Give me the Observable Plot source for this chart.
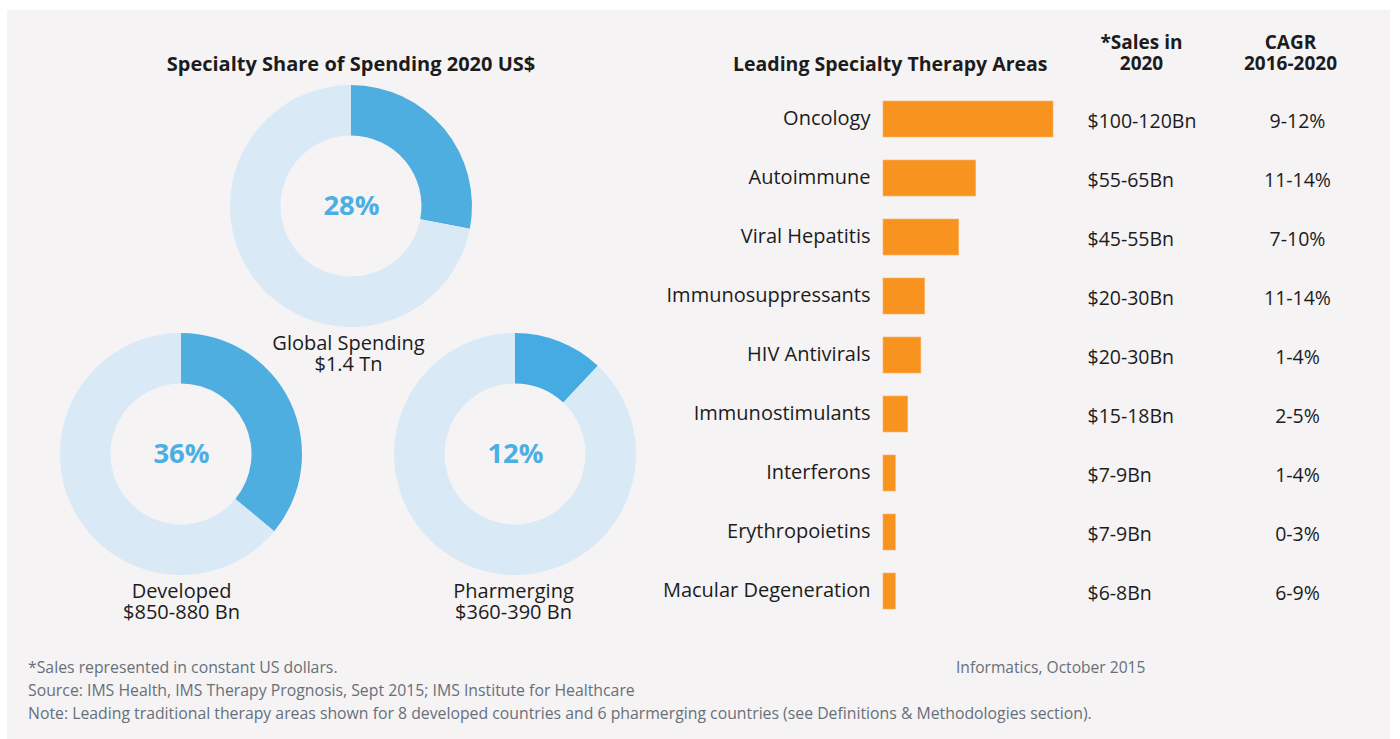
<!DOCTYPE html>
<html>
<head>
<meta charset="utf-8">
<script src="https://cdn.jsdelivr.net/npm/d3@7"></script>
<script src="https://cdn.jsdelivr.net/npm/@observablehq/plot@0.6"></script>
<style>
  html, body { margin: 0; padding: 0; background: #ffffff; }
  #root { position: relative; width: 1400px; height: 739px; overflow: hidden; font-family: "Open Sans", Lato, sans-serif; }
  #panel { position: absolute; left: 7px; top: 10px; width: 1383px; height: 729px; background: #f5f3f4; }
  .abs { position: absolute; }
  #title { left: 101px; width: 500px; top: 50px; text-align: center; font-weight: bold; font-size: 20px; color: #1c1c1c; }
  #footer { left: 28px; top: 656px; font-size: 15.8px; line-height: 23px; color: #67707a; white-space: nowrap; }
  #footer2 { left: 956px; top: 656px; font-size: 15.6px; line-height: 23px; color: #67707a; white-space: nowrap; }
  svg { overflow: visible; }
</style>
</head>
<body>
<div id="root">
  <div id="panel"></div>
  <div id="title" class="abs">Specialty Share of Spending 2020 US$</div>
  <div id="footer" class="abs">*Sales represented in constant US dollars.<br>Source: IMS Health, IMS Therapy Prognosis, Sept 2015; IMS Institute for Healthcare<br>Note: Leading traditional therapy areas shown for 8 developed countries and 6 pharmerging countries (see Definitions &amp; Methodologies section).</div>
  <div id="footer2" class="abs">Informatics, October 2015</div>
</div>
<script>
// ---------------- DATA ----------------
const donutNames   = ["Global", "Developed", "Pharmerging"];
const donutShares  = [28, 36, 12];
const donutLabels  = ["Global Spending\n$1.4 Tn", "Developed\n$850-880 Bn", "Pharmerging\n$360-390 Bn"];

const areas  = ["Oncology", "Autoimmune", "Viral Hepatitis", "Immunosuppressants", "HIV Antivirals",
                "Immunostimulants", "Interferons", "Erythropoietins", "Macular Degeneration"];
const salesMid = [110, 60, 49, 27, 24.5, 16, 8, 8, 8];   // bar length ($Bn)
const salesText = ["$100-120Bn", "$55-65Bn", "$45-55Bn", "$20-30Bn", "$20-30Bn", "$15-18Bn", "$7-9Bn", "$7-9Bn", "$6-8Bn"];
const cagrText  = ["9-12%", "11-14%", "7-10%", "11-14%", "1-4%", "2-5%", "1-4%", "0-3%", "6-9%"];

// ---------------- LAYOUT (placement only) ----------------
const root = document.getElementById("root");
const FONT = "'Open Sans', Lato, sans-serif";
const donutPos = [[351, 206], [181, 454], [515, 454]]; // centers in page px
const labelShift = [-3, 0, -2];
const DW = 260, DH = 300, DCY = 125;

function donutArcs(rows) {
  return (index, scales, values, dims) => {
    const pie = d3.pie().sort(null).value(d => d.value)(rows);
    const arc = d3.arc().innerRadius(70.5).outerRadius(121);
    const g = d3.create("svg:g").attr("transform", `translate(${dims.width / 2},${DCY})`);
    g.selectAll("path").data(pie).join("path")
      .attr("d", arc)
      .attr("fill", d => scales.color(d.data.part));
    return g.node();
  };
}

donutNames.forEach((name, i) => {
  const rows = [
    {part: "Specialty", value: donutShares[i]},
    {part: "Other", value: 100 - donutShares[i]}
  ];
  const chart = Plot.plot({
    width: DW, height: DH,
    margin: 0,
    x: {axis: null}, y: {axis: null},
    color: {domain: ["Specialty", "Other"], range: [i === 2 ? "#44ace2" : "#4eaee0", "#d9e9f6"]},
    style: {background: "transparent", fontFamily: FONT, overflow: "visible"},
    marks: [
      Plot.dot(rows, {fill: "part", r: 0}),
      donutArcs(rows),
      Plot.text([donutShares[i] + "%"], {frameAnchor: "middle", dy: DCY - DH / 2, fontSize: 27.5, fontWeight: "bold", fill: "#4daee2"}),
      Plot.text([donutLabels[i]], {frameAnchor: "middle", dx: labelShift[i], dy: DCY - DH / 2 + 147, fontSize: 20, lineHeight: 1.08, fill: "#1c1c1c"})
    ]
  });
  chart.style.position = "absolute";
  chart.style.left = (donutPos[i][0] - DW / 2) + "px";
  chart.style.top = (donutPos[i][1] - DCY) + "px";
  root.appendChild(chart);
});

// ---------------- BAR TABLE ----------------
const rows = areas.map((a, i) => ({area: a, value: salesMid[i], sales: salesText[i], cagr: cagrText[i]}));

const bars = Plot.plot({
  width: 1400, height: 739,
  marginLeft: 883, marginRight: 347, marginTop: 0, marginBottom: 0,
  x: {domain: [0, 110], axis: null},
  y: {domain: areas, range: [78, 632], padding: 0.39, round: false, axis: null},
  style: {background: "transparent", fontFamily: FONT, overflow: "visible"},
  marks: [
    Plot.barX(rows, {x: "value", y: "area", fill: "#f7931e", stroke: "#fbb467", strokeWidth: 0.6}),
    Plot.text(rows, {y: "area", text: "area", frameAnchor: "left", textAnchor: "end", dx: -13, dy: -1, fontSize: 20, fill: "#1c1c1c"}),
    Plot.text(rows, {y: "area", text: "sales", frameAnchor: "right", textAnchor: "start", dx: 34, dy: 2, fontSize: 19.5, fill: "#1c1c1c"}),
    Plot.text(rows, {y: "area", text: "cagr", frameAnchor: "right", textAnchor: "middle", dx: 244, dy: 2, fontSize: 19.5, fill: "#1c1c1c"}),
    Plot.text(["Leading Specialty Therapy Areas"], {frameAnchor: "top-right", lineAnchor: "middle", textAnchor: "end", dx: -6, dy: 64, fontSize: 19.5, fontWeight: "bold", fill: "#1c1c1c"}),
    Plot.text(["*Sales in\n2020"], {frameAnchor: "top-right", lineAnchor: "middle", textAnchor: "middle", dx: 88, dy: 52.5, fontSize: 19, lineHeight: 1.1, fontWeight: "bold", fill: "#1c1c1c"}),
    Plot.text(["CAGR\n2016-2020"], {frameAnchor: "top-right", lineAnchor: "middle", textAnchor: "middle", dx: 237, dy: 52.5, fontSize: 19, lineHeight: 1.1, fontWeight: "bold", fill: "#1c1c1c"})
  ]
});
bars.style.position = "absolute";
bars.style.left = "0px";
bars.style.top = "0px";
root.appendChild(bars);
</script>
</body>
</html>
